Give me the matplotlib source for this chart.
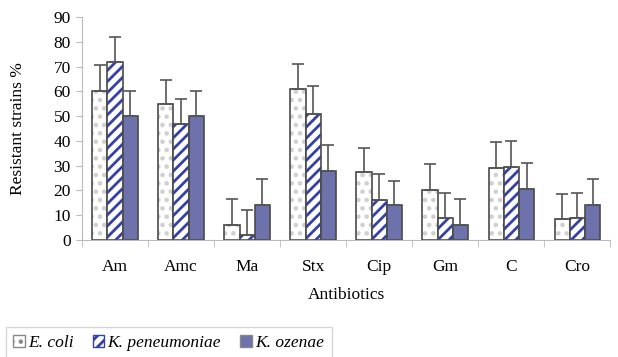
import numpy as np
import matplotlib.pyplot as plt
from matplotlib.patches import Patch

antibiotics = ['Am', 'Amc', 'Ma', 'Stx', 'Cip', 'Gm', 'C', 'Cro']
ecoli = [60, 55, 6, 61, 27.5, 20, 29, 8.5]
ecoli_err = [10.5, 9.5, 10.5, 10, 9.5, 10.5, 10.5, 10]
kpneu = [72, 47, 2, 51, 16, 9, 29.5, 9]
kpneu_err = [10, 10, 10, 11, 10.5, 10, 10.5, 10]
kozen = [50, 50, 14, 28, 14, 6, 20.5, 14]
kozen_err = [10, 10, 10.5, 10.5, 10, 10.5, 10.5, 10.5]

plt.rcParams['font.family'] = 'Liberation Serif'
plt.rcParams['hatch.linewidth'] = 2.0

fig = plt.figure(figsize=(6.18, 3.57), dpi=100)
ax = fig.add_axes([0.1327, 0.3277, 0.855, 0.6247])

x = np.arange(len(antibiotics))
w = 0.23
edge = '#4a4a4a'
err_kw = dict(ecolor='#555555', elinewidth=1.2, capsize=4, capthick=1.2)

# E. coli - dotted fill
ax.bar(x - w, ecoli, w, color='white', edgecolor='#cfcfcf', hatch='..', linewidth=0)
ax.bar(x - w, ecoli, w, fill=False, edgecolor=edge, linewidth=1.2,
       yerr=[np.zeros(len(x)), ecoli_err], error_kw=err_kw)

# K. peneumoniae - blue stripes
ax.bar(x, kpneu, w, color='white', edgecolor='#3540a8', hatch='///', linewidth=0)
ax.bar(x, kpneu, w, fill=False, edgecolor=edge, linewidth=1.2,
       yerr=[np.zeros(len(x)), kpneu_err], error_kw=err_kw)

# K. ozenae - solid
ax.bar(x + w, kozen, w, color='#6d72ad', edgecolor=edge, linewidth=1.2,
       yerr=[np.zeros(len(x)), kozen_err], error_kw=err_kw)

ax.set_xlim(-0.5, len(x) - 0.5)
ax.set_ylim(0, 90)
ax.set_yticks(range(0, 91, 10))
ax.set_xticks(x)
ax.set_xticklabels(antibiotics, fontsize=12.5)
ax.set_xticks(np.arange(-0.5, len(x), 1), minor=True)
ax.tick_params(axis='x', which='major', length=0, pad=14)
ax.tick_params(axis='x', which='minor', length=5, color='#bbbbbb', direction='out')
ax.tick_params(axis='y', length=4, color='#bbbbbb', labelsize=12.5, pad=4)
for s in ['top', 'right']:
    ax.spines[s].set_visible(False)
ax.spines['left'].set_color('#bbbbbb')
ax.spines['bottom'].set_color('#bbbbbb')
ax.set_ylabel('Resistant strains %', fontsize=12.5, labelpad=20)
ax.set_xlabel('Antibiotics', fontsize=12.5, labelpad=8)

handles = [
    Patch(facecolor='white', edgecolor='#888888', hatch='..'),
    Patch(facecolor='white', edgecolor='#3540a8', hatch='///'),
    Patch(facecolor='#6d72ad', edgecolor='#888888'),
]
leg = fig.legend(handles, ['E. coli', 'K. peneumoniae', 'K. ozenae'], loc='lower left',
                 bbox_to_anchor=(-0.005, -0.03), ncol=3, prop={'style': 'italic', 'size': 12.5},
                 fancybox=False, edgecolor='#cccccc', handlelength=0.65, handleheight=0.65,
                 handletextpad=0.2, columnspacing=1.1, borderpad=0.45)

fig.savefig('out.png', dpi=100)
